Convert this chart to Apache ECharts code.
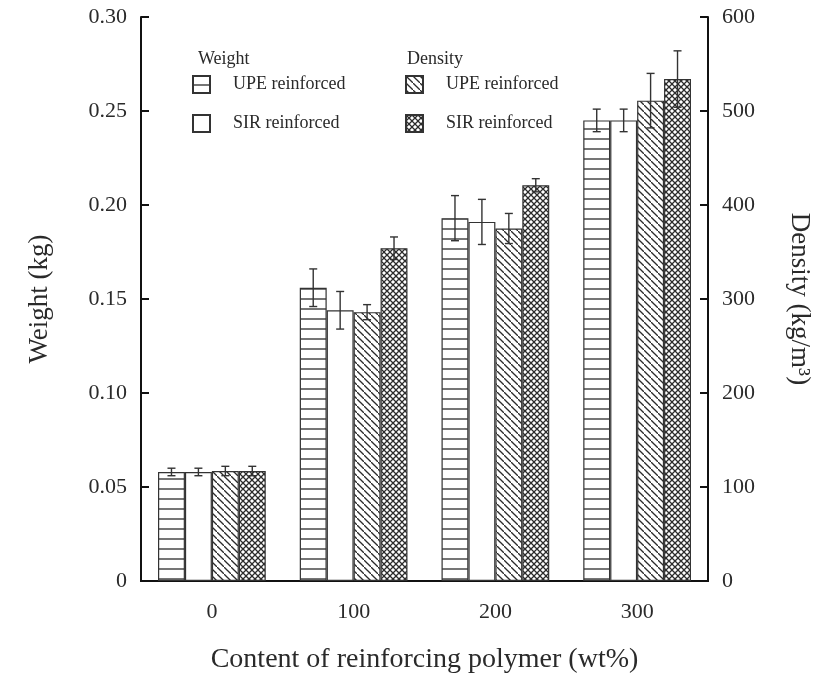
<!DOCTYPE html>
<html><head><meta charset="utf-8">
<script src="https://cdn.jsdelivr.net/npm/echarts@6/dist/echarts.min.js"></script>
<style>html,body{margin:0;padding:0;background:#fff}#c{width:829px;height:681px}</style>
</head><body><div id="c"></div>
<script>
const categories = ['0', '100', '200', '300'];
const weightUPE = [0.058, 0.156, 0.193, 0.245];
const weightUPEErr = [0.002, 0.010, 0.012, 0.006];
const weightSIR = [0.058, 0.144, 0.191, 0.245];
const weightSIRErr = [0.002, 0.010, 0.012, 0.006];
const densityUPE = [117, 286, 375, 511];
const densityUPEErr = [5, 8, 16, 29];
const densitySIR = [117, 354, 421, 534];
const densitySIRErr = [5, 12, 7, 30];
const seriesNames = ['Weight UPE', 'Weight SIR', 'Density UPE', 'Density SIR'];
const legendLabels = ['UPE reinforced', 'SIR reinforced', 'UPE reinforced', 'SIR reinforced'];

const FONT = '"Liberation Serif", "Times New Roman", serif';
const INK = '#2a2a2a';

function makePattern(kind) {
  const s = kind === 'h' ? 10 : (kind === 'd' ? 7 : 6);
  const c = document.createElement('canvas');
  c.width = s; c.height = s;
  const g = c.getContext('2d');
  g.fillStyle = '#fff'; g.fillRect(0, 0, s, s);
  g.strokeStyle = '#2b2b2b';
  g.lineWidth = 1.3;
  g.beginPath();
  if (kind === 'h') {
    g.moveTo(0, s - 1); g.lineTo(s, s - 1);
  } else {
    if (kind === 'd' || kind === 'x') {
      g.moveTo(-1, -1); g.lineTo(s + 1, s + 1);
    }
    if (kind === 'x') {
      g.moveTo(-1, s + 1); g.lineTo(s + 1, -1);
    }
  }
  g.stroke();
  return { image: c, repeat: 'repeat' };
}
const fills = [makePattern('h'), '#ffffff', makePattern('d'), makePattern('x')];

const values = [weightUPE, weightSIR, densityUPE, densitySIR];
const errs = [weightUPEErr, weightSIRErr, densityUPEErr, densitySIRErr];
const axisIdx = [0, 0, 1, 1];
const GAPFRAC = 0.24;

const series = [];
values.forEach((vals, k) => {
  series.push({
    name: seriesNames[k], type: 'bar', yAxisIndex: axisIdx[k],
    data: vals, barGap: '0%', barCategoryGap: (GAPFRAC * 100) + '%',
    itemStyle: { color: fills[k], borderColor: '#333', borderWidth: 1.2 },
    emphasis: { disabled: true }, z: 2
  });
});
values.forEach((vals, k) => {
  series.push({
    type: 'custom', yAxisIndex: axisIdx[k], z: 5, silent: true,
    data: vals.map((v, i) => [i, v, errs[k][i]]),
    encode: { x: 0, y: 1 },
    renderItem: function (params, api) {
      const i = api.value(0), v = api.value(1), e = api.value(2);
      const cw = api.size([1, 0])[0];
      const bw = cw * (1 - GAPFRAC) / 4;
      const x = api.coord([i, v])[0] + (k - 1.5) * bw;
      const yt = api.coord([i, v + e])[1];
      const yb = api.coord([i, v - e])[1];
      const st = { stroke: '#333', lineWidth: 1.4 };
      return { type: 'group', children: [
        { type: 'line', shape: { x1: x, y1: yt, x2: x, y2: yb }, style: st },
        { type: 'line', shape: { x1: x - 4, y1: yt, x2: x + 4, y2: yt }, style: st },
        { type: 'line', shape: { x1: x - 4, y1: yb, x2: x + 4, y2: yb }, style: st }
      ]};
    }
  });
});

function legendFmt(name) {
  return '{p|}' + legendLabels[seriesNames.indexOf(name)];
}
const legendCommon = {
  orient: 'vertical', itemWidth: 17, itemHeight: 17, itemGap: 20, icon: 'rect',
  padding: 0, selectedMode: false, formatter: legendFmt,
  textStyle: { fontFamily: FONT, fontSize: 18, color: INK, rich: { p: { width: 18 } } }
};

const chart = echarts.init(document.getElementById('c'));
chart.setOption({
  animation: false,
  backgroundColor: '#fff',
  grid: { left: 141, right: 121, top: 17, bottom: 100 },
  legend: [
    Object.assign({ left: 192, top: 75, data: [seriesNames[0], seriesNames[1]] }, legendCommon),
    Object.assign({ left: 405, top: 75, data: [seriesNames[2], seriesNames[3]] }, legendCommon)
  ],
  graphic: [
    { type: 'text', left: 198, top: 50, style: { text: 'Weight', font: '18px ' + FONT, fill: INK } },
    { type: 'text', left: 407, top: 50, style: { text: 'Density', font: '18px ' + FONT, fill: INK } }
  ],
  xAxis: [{
    type: 'category', data: categories, position: 'bottom',
    name: 'Content of reinforcing polymer (wt%)', nameLocation: 'middle', nameGap: 65,
    nameTextStyle: { fontFamily: FONT, fontSize: 28, color: INK },
    axisLine: { lineStyle: { color: '#111', width: 2 } },
    axisTick: { inside: true, length: 8, lineStyle: { color: '#111', width: 2 } },
    axisLabel: { fontFamily: FONT, fontSize: 22, color: INK, margin: 20 }
  }, {
    type: 'category', data: categories, position: 'top',
    axisLine: { lineStyle: { color: '#111', width: 2 } },
    axisTick: { inside: true, length: 8, lineStyle: { color: '#111', width: 2 } },
    axisLabel: { show: false }
  }],
  yAxis: [{
    type: 'value', min: 0, max: 0.3, interval: 0.05, position: 'left',
    name: 'Weight (kg)', nameLocation: 'middle', nameGap: 88,
    nameTextStyle: { fontFamily: FONT, fontSize: 27, color: INK },
    axisLine: { show: true, lineStyle: { color: '#111', width: 2 } },
    axisTick: { show: true, inside: true, length: 8, lineStyle: { color: '#111', width: 2 } },
    axisLabel: { fontFamily: FONT, fontSize: 22, color: INK, margin: 14,
      formatter: v => v === 0 ? '0' : v.toFixed(2) },
    splitLine: { show: false }
  }, {
    type: 'value', min: 0, max: 600, interval: 100, position: 'right',
    name: 'Density (kg/m³)', nameLocation: 'middle', nameGap: 78, nameRotate: -90,
    nameTextStyle: { fontFamily: FONT, fontSize: 27, color: INK },
    axisLine: { show: true, lineStyle: { color: '#111', width: 2 } },
    axisTick: { show: true, inside: true, length: 8, lineStyle: { color: '#111', width: 2 } },
    axisLabel: { fontFamily: FONT, fontSize: 22, color: INK, margin: 14 },
    splitLine: { show: false }
  }],
  series: series
});
</script></body></html>
